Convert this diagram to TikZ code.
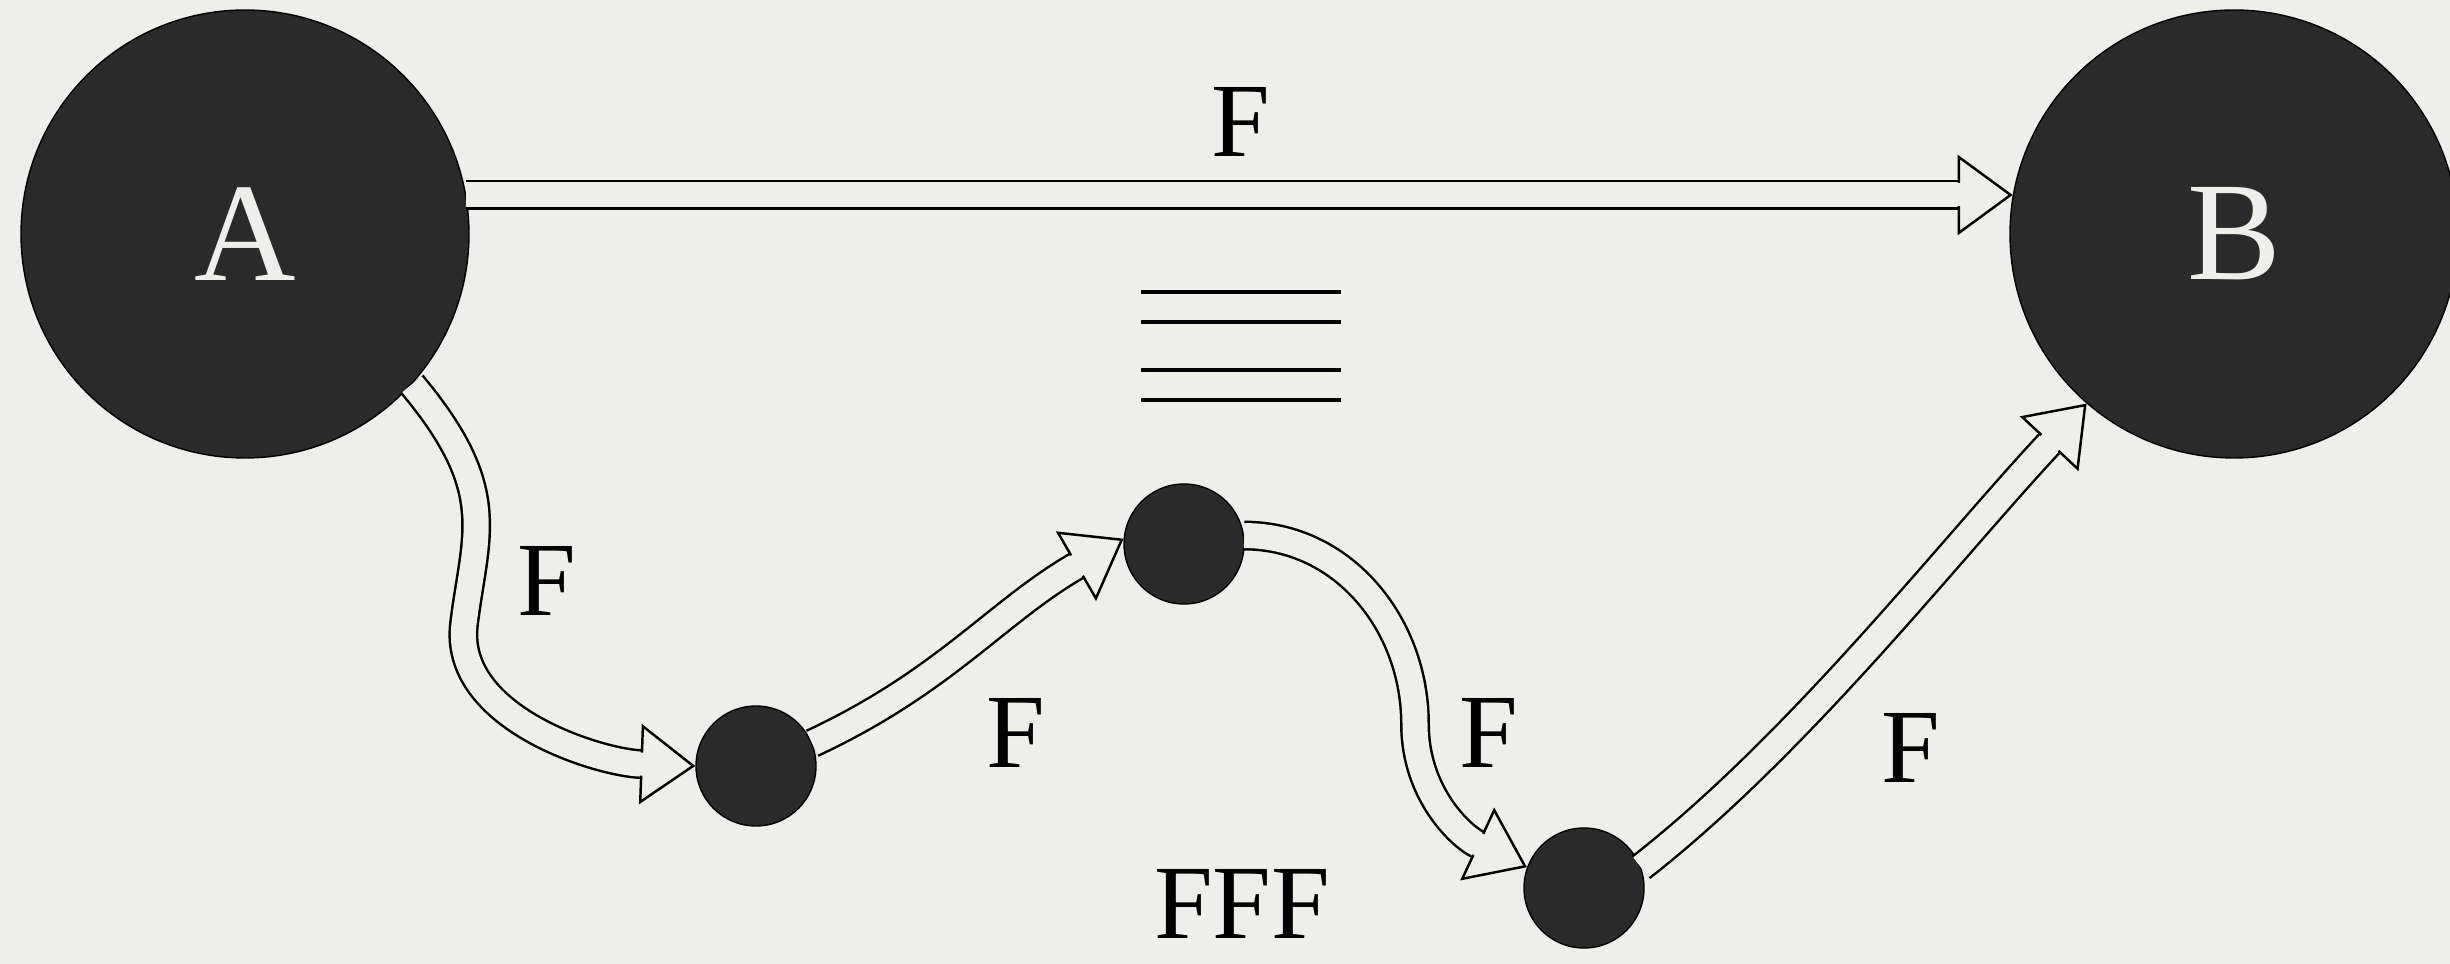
\documentclass[tikz,border=0pt]{standalone}
\usepackage{fontspec}
\setmainfont{Liberation Serif}
\usepackage{tikz}
\usetikzlibrary{arrows.meta}

\definecolor{paper}{RGB}{238,239,234}
\definecolor{ink}{RGB}{42,42,42}

\begin{document}
\begin{tikzpicture}[
        big/.style = {circle, draw = black, fill = ink, minimum size = 4.48cm,
            text = paper, font = \fontsize{40}{40}\selectfont},
        dot/.style = {circle, draw = black, fill = ink, minimum size = 1.2cm},
        flow/.style = {double = paper, double distance = 2.5mm, line width = 0.7pt,
            -{Triangle[open, length = 5.5mm, width = 8mm]},
            postaction = {draw = paper, line width = 2.3mm, arrows = -, shorten > = 5.1mm}},
        lbl/.style = {inner sep = 0pt, font = \fontsize{30}{30}\selectfont}
    ]
        \fill[paper] (0,0) rectangle (24.5,9.64);
        \useasboundingbox (0,0) rectangle (24.5,9.64);

        \node (A)[big] at ( 2.45,7.30) {A};
        \node (B)[big] at (22.34,7.30) {B};
        \node (n1)[dot] at ( 7.56,1.98) {};
        \node (n2)[dot] at (11.84,4.20) {};
        \node (n3)[dot] at (15.84,0.76) {};

        \draw[flow] (A.10) -- (B.170);
        \draw[flow] (A.-42) .. controls (5.01,4.73) and (4.75,4.30) .. (4.64,3.4)
            to[out=-97,in=178,looseness=0.9] (n1.180);
        \draw[flow] (n1.22) to[out=25,in=210] (n2.175);
        \draw[flow] (n2.8) to[out=0,in=90] (14.15,2.4) to[out=-90,in=155] (n3.160);
        \draw[flow] (n3.20) to[out=38,in=227,looseness=0.8] (B.229);

        % stacked bars
        \foreach \y in {6.72,6.42,5.94,5.64}
            \draw[line width = 0.9pt] (11.41,\y) -- (13.41,\y);

        \node (f_top)[lbl] at (12.41,8.42) {F};
        \node (f_one)[lbl] at ( 5.47,3.83) {F};
        \node (f_two)[lbl] at (10.16,2.31) {F};
        \node (f_three)[lbl] at (14.89,2.31) {F};
        \node (f_four)[lbl] at (19.11,2.16) {F};
        \node (f_all)[lbl] at (12.42,0.60) {FFF};
    \end{tikzpicture}
\end{document}
